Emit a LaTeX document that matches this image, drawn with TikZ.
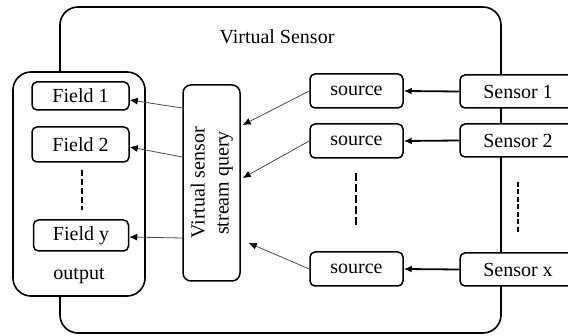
\documentclass[tikz,border=0pt]{standalone}
\usepackage{fontspec}
\setmainfont{Liberation Serif}
\usetikzlibrary{arrows.meta,calc}

\begin{document}
\begin{tikzpicture}[x=1pt,y=-1pt,
  txt/.style={font=\fontsize{20}{25}\selectfont},
  box/.style={draw, line width=1.5pt, rounded corners=5pt, fill=white,
    inner sep=0pt, txt},
  frame/.style={draw, line width=1.6pt, fill=white, inner sep=0pt},
  feed/.style={-{Latex[length=8pt,width=7pt]}, line width=1.8pt},
  link/.style={-{Latex[length=8pt,width=7pt,color=black]}, line width=0.8pt, draw=black!70},
  gap/.style={line width=1.6pt, dash pattern=on 6pt off 3pt}
]
\useasboundingbox (0,0) rectangle (568,336);
\clip (0,0) rectangle (568,336);

% enclosing virtual sensor
\node[frame, fill=none, rounded corners=18pt, minimum width=441pt, minimum height=326pt]
  (vs) at (280.5,170) {};
\node[txt] (title) at (277,37) {Virtual Sensor};

% output container with its fields
\node[frame, rounded corners=18pt, minimum width=132pt, minimum height=224pt]
  (out) at (79,184) {};
\node[box, minimum width=97pt, minimum height=28pt] (f1) at (80.5,96) {Field 1};
\node[box, minimum width=97pt, minimum height=35pt] (f2) at (80.5,144.5) {Field 2};
\node[box, minimum width=95pt, minimum height=31pt] (fy) at (81,235.5) {Field y};
\coordinate (od1) at (82,170);
\coordinate (od2) at (82,210);
\draw[gap] (od1) -- (od2);
\node[txt] (outlbl) at (79,276) {output};

% stream query
\node[box, rounded corners=8pt, minimum width=57pt, minimum height=196pt] (q) at (211.5,183)
  {\rotatebox{90}{\begin{tabular}{@{}c@{}}Virtual sensor\\[-1pt]stream query\end{tabular}}};

% sources
\node[box, minimum width=93pt, minimum height=34pt] (s1) at (356.5,91) {source};
\node[box, minimum width=93pt, minimum height=34pt] (s2) at (356.5,141) {source};
\node[box, minimum width=93pt, minimum height=34pt] (sx) at (356.5,269) {source};
\coordinate (sd1) at (356,173);
\coordinate (sd2) at (356,228);
\draw[gap, dash pattern=on 8pt off 3pt] (sd1) -- (sd2);

% sensors
\node[box, minimum width=116pt, minimum height=33pt] (p1) at (518,91.5) {Sensor 1};
\node[box, minimum width=116pt, minimum height=33pt] (p2) at (518,140.5) {Sensor 2};
\node[box, minimum width=116pt, minimum height=33pt] (px) at (518,269.5) {Sensor x};
\coordinate (pd1) at (518,182);
\coordinate (pd2) at (518,232);
\draw[gap, dash pattern=on 5pt off 2.5pt] (pd1) -- (pd2);

% sensor to source feeds
\draw[feed] (p1.west) -- (s1.east);
\draw[feed] (p2.west) -- (s2.east);
\draw[feed] (px.west) -- (sx.east);

% sources into the query
\draw[link] (s1.west) -- ([yshift=58pt,xshift=2pt]q.east);
\draw[link] (s2.west) -- ([yshift=5pt,xshift=2pt]q.east);
\draw[link] (sx.west) -- ([yshift=-60pt,xshift=8pt]q.east);

% query results to the fields
\draw[link] ([yshift=75pt]q.west) -- ([yshift=-4pt]f1.east);
\draw[link] ([yshift=26pt]q.west) -- ([yshift=-2.5pt]f2.east);
\draw[link] ([yshift=-55pt]q.west) -- ([yshift=-1.5pt]fy.east);
\end{tikzpicture}
\end{document}
